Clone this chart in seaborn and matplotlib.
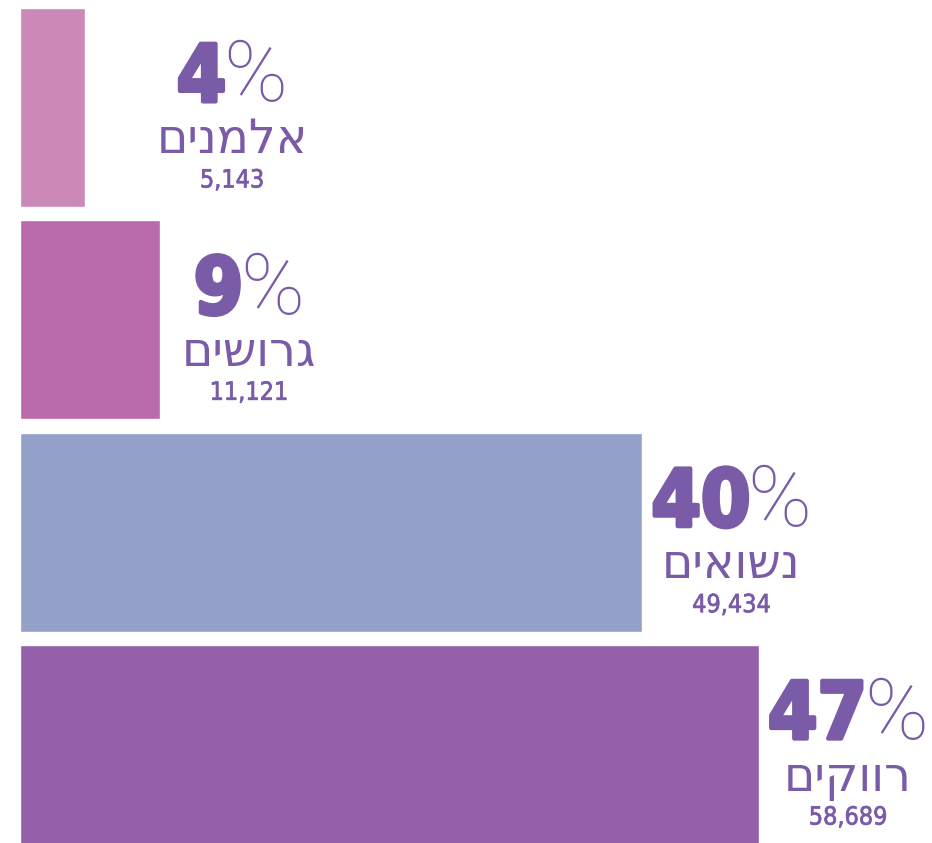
import matplotlib
matplotlib.use("Agg")
import matplotlib.pyplot as plt
import matplotlib.patheffects as pe
import pandas as pd
import seaborn as sns
from matplotlib.transforms import IdentityTransform

# marital status breakdown
categories = ["אלמנים", "גרושים", "נשואים", "רווקים"]
counts = [5143, 11121, 49434, 58689]
percents = [4, 9, 40, 47]

colors = ["#CD88BA", "#BB6BAB", "#93A0C9", "#9460A9"]
text_color = "#7A5BA8"

df = pd.DataFrame({"status": categories, "count": counts, "pct": percents})

sns.set_theme(style="white")
fig = plt.figure(figsize=(9.32, 8.43), dpi=100)
ax = fig.add_axes([0, 0, 1, 1])
sns.barplot(data=df, x="count", y="status", hue="status", palette=colors,
            width=0.936, saturation=1, legend=False, ax=ax)
ax.set_xlim(-1588, 72428)
ax.set_ylim(3.4635, -0.506)
ax.axis("off")

fig.canvas.draw()
renderer = fig.canvas.get_renderer()
px = IdentityTransform()
heavy = [pe.withStroke(linewidth=3, foreground=text_color)]
semi = [pe.withStroke(linewidth=0.5, foreground=text_color)]

for i, row in df.iterrows():
    x_end, y_mid = ax.transData.transform((row["count"], i))
    cx = max(x_end + 89, 232)

    # big percentage: heavy digits + thin, tall percent sign
    t_d = ax.text(0, 0, str(row["pct"]), transform=px, fontsize=57, fontweight="bold",
                  family="DejaVu Sans", fontstretch="condensed", color=text_color,
                  ha="left", va="baseline", path_effects=heavy)
    t_p = ax.text(0, 0, "%", transform=px, fontsize=62, fontweight="light",
                  family=["Roboto", "DejaVu Sans"], color=text_color,
                  ha="left", va="baseline")
    wd = t_d.get_window_extent(renderer).width
    wp = t_p.get_window_extent(renderer).width
    gap = -3
    left = cx - (wd + gap + wp) / 2
    t_d.set_position((left, y_mid + 6))
    t_p.set_position((left + wd + gap, y_mid + 6))

    # matplotlib has no bidi support, so Hebrew is passed in visual order
    ax.text(cx, y_mid - 46, row["status"][::-1], transform=px, fontsize=34,
            family="DejaVu Sans", color=text_color, ha="center", va="baseline")
    ax.text(cx, y_mid - 80, f"{row['count']:,}", transform=px, fontsize=18,
            family="DejaVu Sans", fontstretch="condensed", color=text_color,
            ha="center", va="baseline", path_effects=semi)

fig.savefig("out.png", dpi=100, facecolor="white")
